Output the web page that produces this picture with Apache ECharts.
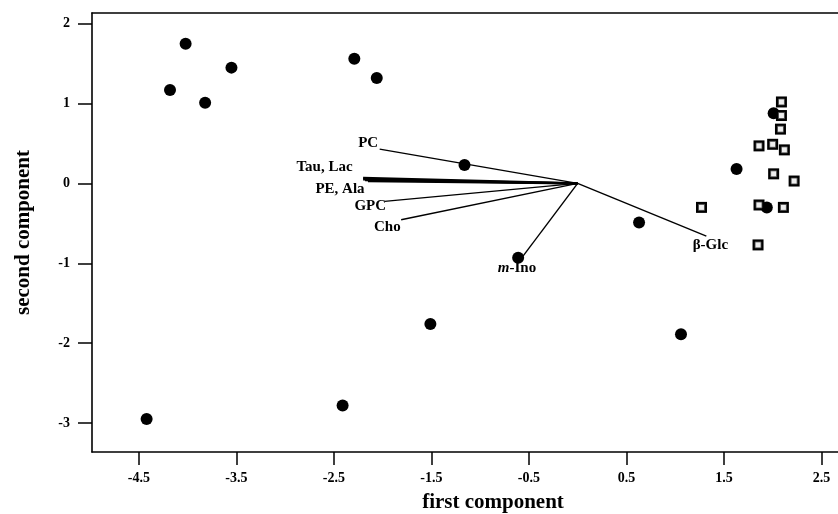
<!DOCTYPE html>
<html>
<head>
<meta charset="utf-8">
<script src="https://cdn.jsdelivr.net/npm/echarts@6/dist/echarts.min.js"></script>
<style>
html,body{margin:0;padding:0;background:#fff;}
#chart{width:838px;height:514px;}
</style>
</head>
<body>
<div id="chart"></div>
<script>
// ---- data ----
const xTicks = [-4.5, -3.5, -2.5, -1.5, -0.5, 0.5, 1.5, 2.5];
const yTicks = [-3, -2, -1, 0, 1, 2];

// filled circles (scores, group 1)
const circleX = [-4.02, -4.18, -3.82, -3.55, -2.29, -2.06, -1.16, -0.61, 0.63, 1.06, 1.63, 2.01, 1.94, -4.42, -2.41, -1.51];
const circleY = [1.75, 1.17, 1.01, 1.45, 1.56, 1.32, 0.23, -0.93, -0.49, -1.89, 0.18, 0.88, -0.30, -2.95, -2.78, -1.76];

// open squares (scores, group 2)
const squareX = [2.09, 2.09, 2.08, 1.86, 2.00, 2.12, 2.01, 2.22, 1.27, 1.86, 2.11, 1.85];
const squareY = [1.02, 0.85, 0.68, 0.47, 0.49, 0.42, 0.12, 0.03, -0.30, -0.27, -0.30, -0.77];

// loading vectors (from origin)
const vecNames  = ['PC', 'Tau', 'Lac', 'PE', 'Ala', 'GPC', 'Cho', 'm-Ino', 'β-Glc'];
const vecX      = [-2.03, -2.20, -2.20, -2.18, -2.15, -1.98, -1.81, -0.56, 1.32];
const vecY      = [0.43, 0.07, 0.05, 0.04, 0.03, -0.225, -0.455, -0.91, -0.66];
const vecLabels = ['PC', 'Tau, Lac', '', 'PE, Ala', '', 'GPC', 'Cho', '{i|m}-Ino', 'β-Glc'];

// ---- styles ----
const FONT = 'Liberation Serif';
const labelStyle = [
  {position: 'left', offset: [-1, -6]},
  {position: 'left', offset: [-10, -11]},
  null,
  {position: 'left', offset: [0, 9]},
  null,
  {position: 'left', offset: [2, 5]},
  {position: 'left', offset: [0, 7]},
  {position: 'bottom', offset: [-6, 4]},
  {position: 'bottom', offset: [4, 1]}
];
const vecWidth = [1.4, 2.2, 2.2, 2.2, 2.2, 1.4, 1.4, 1.4, 1.4];

const series = [];
vecNames.forEach((n, i) => {
  series.push({
    type: 'line', name: n, data: [[0, 0], [vecX[i], vecY[i]]],
    showSymbol: false, symbol: 'none', silent: true,
    lineStyle: {color: '#000', width: vecWidth[i], opacity: 1}, z: 2
  });
});
series.push({
  type: 'scatter', name: 'vecLabels', symbolSize: 1,
  itemStyle: {color: 'rgba(0,0,0,0)', opacity: 1},
  data: vecNames.map((n, i) => {
    const ls = labelStyle[i];
    return {
      value: [vecX[i], vecY[i]],
      label: ls ? {
        show: true, formatter: vecLabels[i], position: ls.position, distance: 0,
        offset: ls.offset, color: '#000', opacity: 1, fontFamily: FONT, fontWeight: 'bold', fontSize: 15,
        rich: {i: {fontFamily: FONT, fontWeight: 'bold', fontStyle: 'italic', fontSize: 15, color: '#000'}}
      } : {show: false}
    };
  }),
  z: 5
});
series.push({
  type: 'scatter', name: 'circles', symbol: 'circle', symbolSize: 12,
  itemStyle: {color: '#000', opacity: 1},
  data: circleX.map((x, i) => [x, circleY[i]]), z: 3
});
series.push({
  type: 'scatter', name: 'squares', symbol: 'rect', symbolSize: 11,
  itemStyle: {color: '#000', opacity: 1},
  data: squareX.map((x, i) => [x, squareY[i]]), z: 4
});
series.push({
  type: 'scatter', name: 'squaresInner', symbol: 'rect', symbolSize: 6,
  itemStyle: {color: '#eeeeee', borderColor: '#444', borderWidth: 0.8, opacity: 1},
  data: squareX.map((x, i) => [x, squareY[i]]), z: 4
});

const chart = echarts.init(document.getElementById('chart'));
chart.setOption({
  animation: false,
  backgroundColor: '#fff',
  grid: {left: 92, right: 0, top: 13, bottom: 62, containLabel: false, outerBoundsMode: 'none'},
  xAxis: [{
    type: 'value', min: -4.98, max: 2.67, position: 'bottom',
    axisLine: {show: true, onZero: false, lineStyle: {color: '#000', width: 1.6}},
    axisTick: {show: true, length: 13, customValues: xTicks, lineStyle: {color: '#000', width: 1.5}},
    axisLabel: {show: true, customValues: xTicks, margin: 19, color: '#000', fontFamily: FONT, fontWeight: 'bold', fontSize: 14,
      formatter: v => String(v)},
    splitLine: {show: false},
    name: 'first component', nameLocation: 'middle', nameGap: 40,
    nameTextStyle: {color: '#000', fontFamily: FONT, fontWeight: 'bold', fontSize: 21, padding: [0, 0, 0, 56]}
  }, {
    type: 'value', min: -4.98, max: 2.67, position: 'top',
    axisLine: {show: true, onZero: false, lineStyle: {color: '#000', width: 1.6}},
    axisTick: {show: false}, axisLabel: {show: false}, splitLine: {show: false}
  }],
  yAxis: {
    type: 'value', min: -3.363, max: 2.134,
    axisLine: {show: true, onZero: false, lineStyle: {color: '#000', width: 1.6}},
    axisTick: {show: true, length: 14, customValues: yTicks, lineStyle: {color: '#000', width: 1.5}},
    axisLabel: {show: true, customValues: yTicks, margin: 22, color: '#000', fontFamily: FONT, fontWeight: 'bold', fontSize: 14},
    splitLine: {show: false},
    name: 'second component', nameLocation: 'middle', nameGap: 58,
    nameTextStyle: {color: '#000', fontFamily: FONT, fontWeight: 'bold', fontSize: 21}
  },
  series: series
});
</script>
</body>
</html>
